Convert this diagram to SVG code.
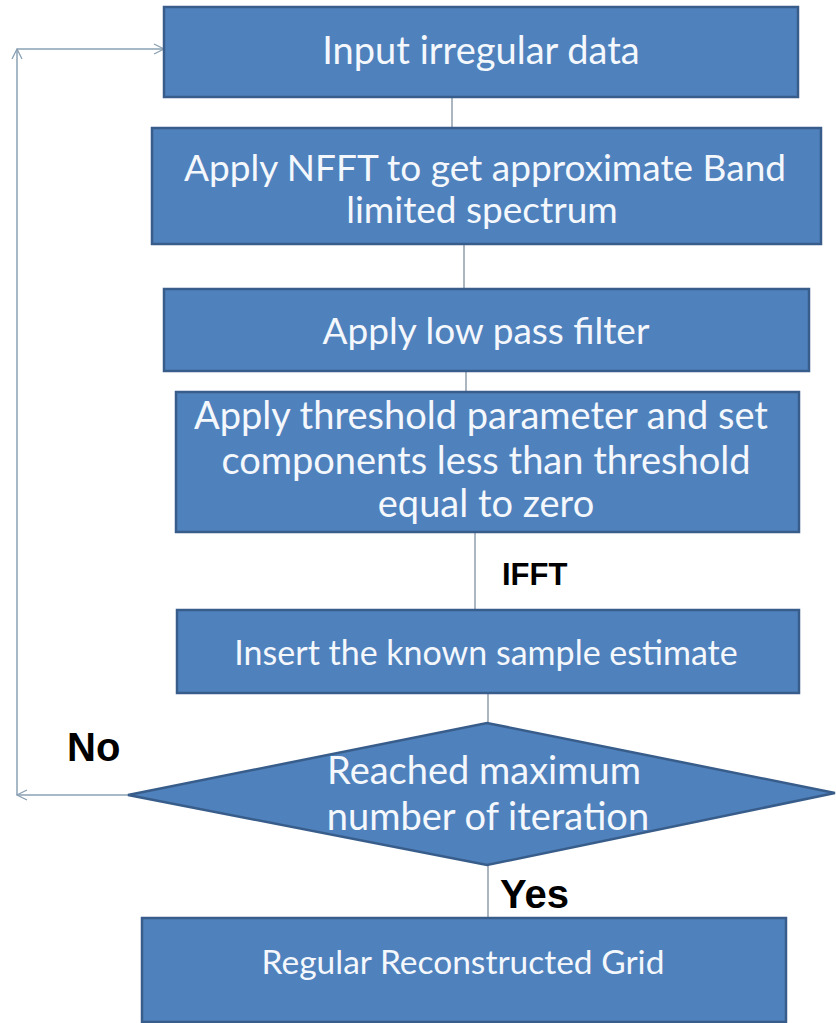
<svg xmlns="http://www.w3.org/2000/svg" width="836" height="1023" viewBox="0 0 836 1023">
<defs>
<marker id="open" viewBox="0 0 12 12" refX="11" refY="6" markerWidth="12" markerHeight="12" markerUnits="userSpaceOnUse" orient="auto">
<path d="M1,1 L11,6 L1,11" fill="none" stroke="#8aa0b4" stroke-width="1.3"/>
</marker>
</defs>
<style>
.box{fill:#4f81bd;stroke:#385d8a;stroke-width:2.5}
.t{font-family:Lato,"Open Sans",sans-serif;fill:#f4f8fc;text-anchor:middle}
.l{font-family:"Liberation Sans",Arial,sans-serif;font-weight:bold;fill:#000}
.c{stroke:#7f8f9f;stroke-width:1.3;fill:none}
.loop{stroke:#8aa0b4;stroke-width:1.5;fill:none}
</style>
<rect width="836" height="1023" fill="#fff"/>
<g id="connectors">
<line class="c" x1="452" y1="97" x2="452" y2="128"/>
<line class="c" x1="464" y1="244" x2="464" y2="289"/>
<line class="c" x1="466" y1="371" x2="466" y2="392"/>
<line class="c" x1="475" y1="532" x2="475" y2="610"/>
<line class="c" x1="488" y1="693" x2="488" y2="723"/>
<line class="c" x1="488" y1="865" x2="488" y2="918"/>
<line class="loop" x1="128" y1="795" x2="17" y2="795" marker-end="url(#open)"/>
<line class="loop" x1="17" y1="795" x2="17" y2="49" marker-end="url(#open)"/>
<line class="loop" x1="17" y1="49" x2="164" y2="49" marker-end="url(#open)"/>
<text class="l" x="502" y="585" font-size="31">IFFT</text>
<text class="l" x="67" y="761" font-size="40">No</text>
<text class="l" x="500" y="908" font-size="40">Yes</text>
</g>
<g id="n1">
<rect class="box" x="164" y="7" width="634" height="90"/>
<text class="t" x="481" y="64" font-size="38">Input irregular data</text>
</g>
<g id="n2">
<rect class="box" x="152" y="128" width="669" height="116"/>
<text class="t" x="485" y="181" font-size="37">Apply NFFT to get approximate Band</text>
<text class="t" x="482" y="223" font-size="37">limited spectrum</text>
</g>
<g id="n3">
<rect class="box" x="164" y="289" width="645" height="82"/>
<text class="t" x="486" y="344" font-size="37">Apply low pass filter</text>
</g>
<g id="n4">
<rect class="box" x="176" y="392" width="623" height="140"/>
<text class="t" x="481" y="429" font-size="38">Apply threshold parameter and set</text>
<text class="t" x="486" y="474" font-size="38">components less than threshold</text>
<text class="t" x="486" y="517" font-size="38">equal to zero</text>
</g>
<g id="n5">
<rect class="box" x="177" y="610" width="622" height="83"/>
<text class="t" x="486" y="665" font-size="34">Insert the known sample estimate</text>
</g>
<g id="n6">
<polygon class="box" points="128,795 487,723 835,793 487,865"/>
<text class="t" x="484" y="784" font-size="38">Reached maximum</text>
<text class="t" x="488" y="830" font-size="38">number of iteration</text>
</g>
<g id="n7">
<rect class="box" x="142" y="918" width="644" height="104"/>
<text class="t" x="463" y="974" font-size="33.5">Regular Reconstructed Grid</text>
</g>
</svg>
